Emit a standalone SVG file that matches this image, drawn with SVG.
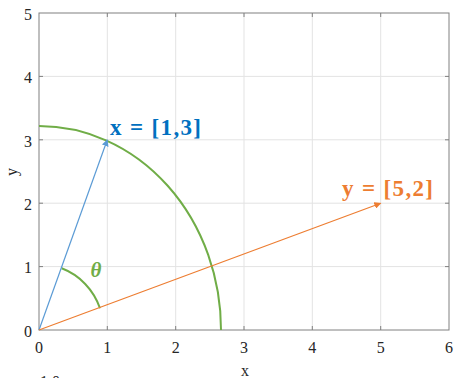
<svg xmlns="http://www.w3.org/2000/svg" width="454" height="378" viewBox="0 0 454 378">
<style>
.grid{stroke:#e3e3e3;stroke-width:1;fill:none}
.axis{stroke:#808080;stroke-width:1;fill:none}
text{font-family:'Liberation Serif','Times New Roman','DejaVu Serif',serif}
.tick{font-size:16px;fill:#262626}
.lbl{font-size:23px;font-weight:bold}
</style>
<defs>
<marker id="ab" viewBox="0 0 10 10" refX="9" refY="5" markerWidth="7" markerHeight="7" markerUnits="userSpaceOnUse" orient="auto"><path d="M0,0 L10,5 L0,10 z" fill="#5B9BD5"/></marker>
<marker id="ao" viewBox="0 0 10 10" refX="9" refY="5" markerWidth="7" markerHeight="7" markerUnits="userSpaceOnUse" orient="auto"><path d="M0,0 L10,5 L0,10 z" fill="#ED7D31"/></marker>
</defs>
<rect width="454" height="378" fill="#fff"/>
<g id="axes">
<path class="grid" d="M107.3,13V330M175.7,13V330M244,13V330M312.3,13V330M380.7,13V330M39,76.4H449M39,139.8H449M39,203.2H449M39,266.6H449"/>
<rect class="axis" x="39" y="13" width="410" height="317"/>
<path class="axis" d="M107.3,330v-4M175.7,330v-4M244,330v-4M312.3,330v-4M380.7,330v-4M107.3,13v4M175.7,13v4M244,13v4M312.3,13v4M380.7,13v4M39,76.4h4M39,139.8h4M39,203.2h4M39,266.6h4M449,76.4h-4M449,139.8h-4M449,203.2h-4M449,266.6h-4"/>
<g class="tick" text-anchor="middle">
<text x="39" y="353">0</text><text x="107.3" y="353">1</text><text x="175.7" y="353">2</text><text x="244" y="353">3</text><text x="312.3" y="353">4</text><text x="380.7" y="353">5</text><text x="449" y="353">6</text>
<text x="245" y="376">x</text>
</g>
<g class="tick" text-anchor="end">
<text x="32" y="336.7">0</text><text x="32" y="273.3">1</text><text x="32" y="209.9">2</text><text x="32" y="146.5">3</text><text x="32" y="83.1">4</text><text x="32" y="19.7">5</text>
</g>
<text class="tick" text-anchor="middle" transform="translate(17,172) rotate(-90)">y</text>
<text class="tick" x="40" y="387">1.0</text>
</g>
<g id="arcs" fill="none" stroke="#70AD47" stroke-width="2">
<path d="M39,126 A182,204 0 0 1 221,330"/>
<path d="M61.7,268.3 A64.6,66 0 0 1 100,308.3"/>
</g>
<g id="connectors" fill="none" stroke-width="1.2">
<line x1="39" y1="330" x2="107.3" y2="139.8" stroke="#5B9BD5" marker-end="url(#ab)"/>
<line x1="39" y1="330" x2="380.7" y2="203.2" stroke="#ED7D31" marker-end="url(#ao)"/>
</g>
<g id="label-x"><text class="lbl" x="110" y="135" fill="#0070C0" textLength="91" lengthAdjust="spacing">x = [1,3]</text></g>
<g id="label-y"><text class="lbl" x="342" y="196" fill="#ED7D31" textLength="91" lengthAdjust="spacing">y = [5,2]</text></g>
<g id="label-theta"><text x="96" y="277" text-anchor="middle" font-size="21" font-weight="bold" font-style="italic" fill="#70AD47">θ</text></g>
</svg>
